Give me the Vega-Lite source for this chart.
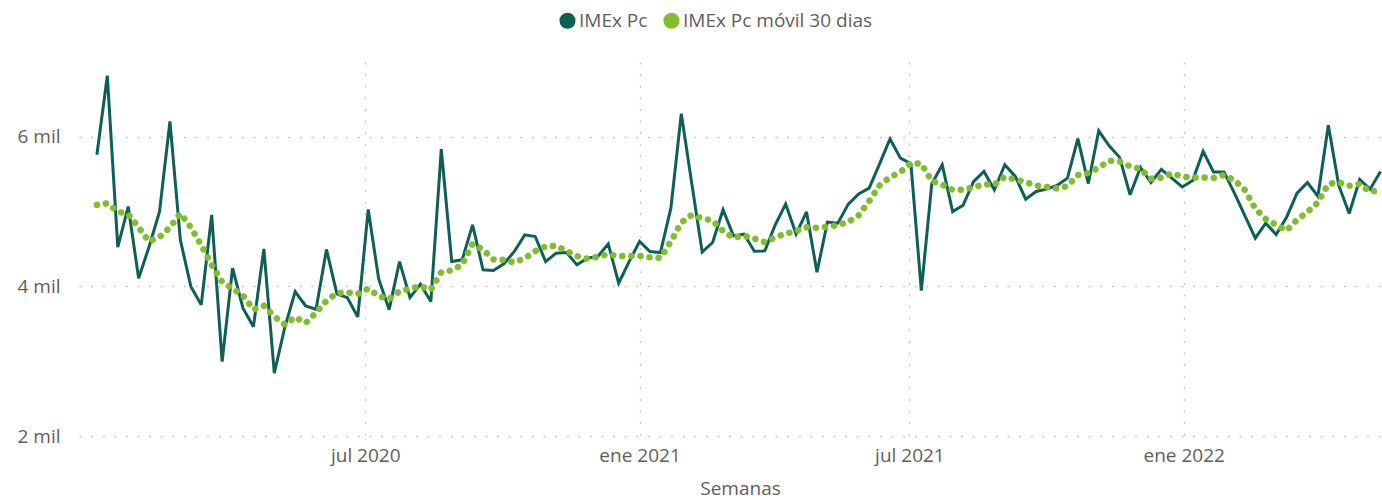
{
  "$schema": "https://vega.github.io/schema/vega-lite/v6.json",
  "width": 1303,
  "height": 374,
  "autosize": {"type": "none"},
  "padding": {"left": 79, "top": 62, "right": 0, "bottom": 64},
  "background": "white",
  "config": {
    "view": {"stroke": null},
    "font": "Open Sans",
    "axis": {
      "labelFont": "Open Sans",
      "labelFontSize": 19,
      "labelColor": "#605E5C",
      "titleFont": "Open Sans",
      "titleFontSize": 19,
      "titleFontWeight": "normal",
      "titleColor": "#605E5C",
      "domain": false,
      "ticks": false,
      "grid": true,
      "gridColor": "#C8C6C4",
      "gridDash": [2, 9.6],
      "gridWidth": 1.3
    }
  },
  "resolve": {"scale": {"color": "independent"}, "legend": {"color": "independent"}},
  "data": {
    "values": [
      {"semana": "2020-01-03", "imex": 5760, "movil": 5090},
      {"semana": "2020-01-10", "imex": 6817, "movil": 5110},
      {"semana": "2020-01-17", "imex": 4525, "movil": 5000},
      {"semana": "2020-01-24", "imex": 5068, "movil": 4965},
      {"semana": "2020-01-31", "imex": 4110, "movil": 4790},
      {"semana": "2020-02-07", "imex": 4530, "movil": 4600},
      {"semana": "2020-02-14", "imex": 5000, "movil": 4660},
      {"semana": "2020-02-21", "imex": 6205, "movil": 4790},
      {"semana": "2020-02-28", "imex": 4620, "movil": 4975},
      {"semana": "2020-03-06", "imex": 4000, "movil": 4790},
      {"semana": "2020-03-13", "imex": 3753, "movil": 4550},
      {"semana": "2020-03-20", "imex": 4957, "movil": 4290},
      {"semana": "2020-03-27", "imex": 2995, "movil": 4060},
      {"semana": "2020-04-03", "imex": 4244, "movil": 3970},
      {"semana": "2020-04-10", "imex": 3708, "movil": 3880},
      {"semana": "2020-04-17", "imex": 3462, "movil": 3690},
      {"semana": "2020-04-24", "imex": 4502, "movil": 3740},
      {"semana": "2020-05-01", "imex": 2839, "movil": 3600},
      {"semana": "2020-05-08", "imex": 3450, "movil": 3490},
      {"semana": "2020-05-15", "imex": 3930, "movil": 3590},
      {"semana": "2020-05-22", "imex": 3740, "movil": 3510},
      {"semana": "2020-05-29", "imex": 3695, "movil": 3650},
      {"semana": "2020-06-05", "imex": 4494, "movil": 3810},
      {"semana": "2020-06-12", "imex": 3900, "movil": 3910},
      {"semana": "2020-06-19", "imex": 3850, "movil": 3920},
      {"semana": "2020-06-26", "imex": 3592, "movil": 3900},
      {"semana": "2020-07-03", "imex": 5028, "movil": 3970},
      {"semana": "2020-07-10", "imex": 4100, "movil": 3870},
      {"semana": "2020-07-17", "imex": 3690, "movil": 3830},
      {"semana": "2020-07-24", "imex": 4332, "movil": 3935},
      {"semana": "2020-07-31", "imex": 3850, "movil": 3970},
      {"semana": "2020-08-07", "imex": 4030, "movil": 4005},
      {"semana": "2020-08-14", "imex": 3797, "movil": 3955},
      {"semana": "2020-08-21", "imex": 5836, "movil": 4190},
      {"semana": "2020-08-28", "imex": 4332, "movil": 4215},
      {"semana": "2020-09-04", "imex": 4355, "movil": 4290},
      {"semana": "2020-09-11", "imex": 4823, "movil": 4570},
      {"semana": "2020-09-18", "imex": 4221, "movil": 4490},
      {"semana": "2020-09-25", "imex": 4212, "movil": 4360},
      {"semana": "2020-10-02", "imex": 4301, "movil": 4355},
      {"semana": "2020-10-09", "imex": 4467, "movil": 4320},
      {"semana": "2020-10-16", "imex": 4689, "movil": 4375},
      {"semana": "2020-10-23", "imex": 4667, "movil": 4470},
      {"semana": "2020-10-30", "imex": 4332, "movil": 4535},
      {"semana": "2020-11-06", "imex": 4444, "movil": 4542},
      {"semana": "2020-11-13", "imex": 4453, "movil": 4475},
      {"semana": "2020-11-20", "imex": 4288, "movil": 4405},
      {"semana": "2020-11-27", "imex": 4378, "movil": 4370},
      {"semana": "2020-12-04", "imex": 4400, "movil": 4395},
      {"semana": "2020-12-11", "imex": 4569, "movil": 4430},
      {"semana": "2020-12-18", "imex": 4043, "movil": 4405},
      {"semana": "2020-12-25", "imex": 4332, "movil": 4405},
      {"semana": "2021-01-01", "imex": 4600, "movil": 4408},
      {"semana": "2021-01-08", "imex": 4467, "movil": 4390},
      {"semana": "2021-01-15", "imex": 4453, "movil": 4380},
      {"semana": "2021-01-22", "imex": 5046, "movil": 4600},
      {"semana": "2021-01-29", "imex": 6310, "movil": 4855},
      {"semana": "2021-02-05", "imex": 5380, "movil": 4955},
      {"semana": "2021-02-12", "imex": 4460, "movil": 4910},
      {"semana": "2021-02-19", "imex": 4587, "movil": 4880},
      {"semana": "2021-02-26", "imex": 5024, "movil": 4740},
      {"semana": "2021-03-05", "imex": 4675, "movil": 4650},
      {"semana": "2021-03-12", "imex": 4700, "movil": 4680},
      {"semana": "2021-03-19", "imex": 4470, "movil": 4640},
      {"semana": "2021-03-26", "imex": 4475, "movil": 4590},
      {"semana": "2021-04-02", "imex": 4823, "movil": 4655},
      {"semana": "2021-04-09", "imex": 5100, "movil": 4705},
      {"semana": "2021-04-16", "imex": 4700, "movil": 4740},
      {"semana": "2021-04-23", "imex": 4995, "movil": 4790},
      {"semana": "2021-04-30", "imex": 4190, "movil": 4785},
      {"semana": "2021-05-07", "imex": 4860, "movil": 4795},
      {"semana": "2021-05-14", "imex": 4846, "movil": 4820},
      {"semana": "2021-05-21", "imex": 5100, "movil": 4860},
      {"semana": "2021-05-28", "imex": 5236, "movil": 4950},
      {"semana": "2021-06-04", "imex": 5314, "movil": 5140},
      {"semana": "2021-06-11", "imex": 5637, "movil": 5350},
      {"semana": "2021-06-18", "imex": 5970, "movil": 5460},
      {"semana": "2021-06-25", "imex": 5715, "movil": 5530},
      {"semana": "2021-07-02", "imex": 5640, "movil": 5648},
      {"semana": "2021-07-09", "imex": 3945, "movil": 5640},
      {"semana": "2021-07-16", "imex": 5370, "movil": 5410},
      {"semana": "2021-07-23", "imex": 5626, "movil": 5358},
      {"semana": "2021-07-30", "imex": 5001, "movil": 5291},
      {"semana": "2021-08-06", "imex": 5085, "movil": 5291},
      {"semana": "2021-08-13", "imex": 5400, "movil": 5325},
      {"semana": "2021-08-20", "imex": 5536, "movil": 5365},
      {"semana": "2021-08-27", "imex": 5290, "movil": 5360},
      {"semana": "2021-09-03", "imex": 5626, "movil": 5465},
      {"semana": "2021-09-10", "imex": 5470, "movil": 5430},
      {"semana": "2021-09-17", "imex": 5166, "movil": 5390},
      {"semana": "2021-09-24", "imex": 5269, "movil": 5350},
      {"semana": "2021-10-01", "imex": 5300, "movil": 5330},
      {"semana": "2021-10-08", "imex": 5350, "movil": 5310},
      {"semana": "2021-10-15", "imex": 5447, "movil": 5340},
      {"semana": "2021-10-22", "imex": 5975, "movil": 5490},
      {"semana": "2021-10-29", "imex": 5375, "movil": 5515},
      {"semana": "2021-11-05", "imex": 6080, "movil": 5590},
      {"semana": "2021-11-12", "imex": 5880, "movil": 5680},
      {"semana": "2021-11-19", "imex": 5725, "movil": 5670},
      {"semana": "2021-11-26", "imex": 5225, "movil": 5605},
      {"semana": "2021-12-03", "imex": 5590, "movil": 5570},
      {"semana": "2021-12-10", "imex": 5390, "movil": 5440},
      {"semana": "2021-12-17", "imex": 5565, "movil": 5455},
      {"semana": "2021-12-24", "imex": 5447, "movil": 5510},
      {"semana": "2021-12-31", "imex": 5330, "movil": 5470},
      {"semana": "2022-01-07", "imex": 5415, "movil": 5455},
      {"semana": "2022-01-14", "imex": 5805, "movil": 5455},
      {"semana": "2022-01-21", "imex": 5530, "movil": 5450},
      {"semana": "2022-01-28", "imex": 5530, "movil": 5490},
      {"semana": "2022-02-04", "imex": 5247, "movil": 5420},
      {"semana": "2022-02-11", "imex": 4945, "movil": 5290},
      {"semana": "2022-02-18", "imex": 4645, "movil": 5040},
      {"semana": "2022-02-25", "imex": 4846, "movil": 4900},
      {"semana": "2022-03-04", "imex": 4695, "movil": 4823},
      {"semana": "2022-03-11", "imex": 4925, "movil": 4747},
      {"semana": "2022-03-18", "imex": 5247, "movil": 4890},
      {"semana": "2022-03-25", "imex": 5389, "movil": 4995},
      {"semana": "2022-04-01", "imex": 5205, "movil": 5122},
      {"semana": "2022-04-08", "imex": 6155, "movil": 5370},
      {"semana": "2022-04-15", "imex": 5350, "movil": 5390},
      {"semana": "2022-04-22", "imex": 4975, "movil": 5345},
      {"semana": "2022-04-29", "imex": 5430, "movil": 5372},
      {"semana": "2022-05-06", "imex": 5300, "movil": 5265},
      {"semana": "2022-05-13", "imex": 5536, "movil": 5291}
    ]
  },
  "encoding": {
    "x": {
      "field": "semana",
      "type": "temporal",
      "scale": {
        "type": "utc",
        "domain": [
          {"year": 2019, "month": 12, "date": 22, "utc": true},
          {"year": 2022, "month": 5, "date": 14, "utc": true}
        ]
      },
      "axis": {
        "values": [
          {"year": 2020, "month": 7, "date": 1, "utc": true},
          {"year": 2021, "month": 1, "date": 1, "utc": true},
          {"year": 2021, "month": 7, "date": 1, "utc": true},
          {"year": 2022, "month": 1, "date": 1, "utc": true}
        ],
        "labelExpr": "['ene','feb','mar','abr','may','jun','jul','ago','sep','oct','nov','dic'][utcmonth(datum.value)] + ' ' + utcyear(datum.value)",
        "title": "Semanas",
        "titleX": 661,
        "labelPadding": 10,
        "titlePadding": 14,
        "labelFlush": false
      }
    }
  },
  "layer": [
    {
      "transform": [{"filter": "datum.imex < 0"}],
      "mark": {"type": "circle", "opacity": 1},
      "encoding": {
        "y": {
          "field": "imex",
          "type": "quantitative",
          "scale": {"domain": [2000, 7000], "nice": false, "zero": false},
          "axis": {
            "values": [2000, 4000, 6000],
            "labelExpr": "(datum.value / 1000) + ' mil'",
            "title": null,
            "labelPadding": 19
          }
        },
        "color": {
          "datum": "IMEx Pc",
          "type": "nominal",
          "scale": {"domain": ["IMEx Pc", "IMEx Pc móvil 30 dias"], "range": ["#0E5F55", "#82BD2F"]},
          "legend": {
            "orient": "none",
            "legendX": 479,
            "legendY": -51,
            "direction": "horizontal",
            "title": null,
            "padding": 0,
            "symbolType": "circle",
            "symbolSize": 260,
            "symbolStrokeWidth": 0,
            "symbolOpacity": 1,
            "labelFont": "Open Sans",
            "labelFontSize": 19,
            "labelLimit": 0,
            "labelColor": "#605E5C",
            "labelOffset": 2,
            "columnPadding": 14
          }
        }
      }
    },
    {
      "mark": {"type": "line", "strokeWidth": 3, "strokeJoin": "miter", "strokeMiterLimit": 3, "color": "#0E5F55"},
      "encoding": {
        "y": {
          "field": "imex",
          "type": "quantitative",
          "scale": {"domain": [2000, 7000], "nice": false, "zero": false},
          "axis": {
            "values": [2000, 4000, 6000],
            "labelExpr": "(datum.value / 1000) + ' mil'",
            "title": null,
            "labelPadding": 19
          }
        }
      }
    },
    {
      "mark": {"type": "line", "strokeWidth": 6.5, "strokeDash": [0.1, 9], "strokeCap": "round", "color": "#82BD2F"},
      "encoding": {
        "y": {
          "field": "movil",
          "type": "quantitative",
          "scale": {"domain": [2000, 7000], "nice": false, "zero": false},
          "axis": {
            "values": [2000, 4000, 6000],
            "labelExpr": "(datum.value / 1000) + ' mil'",
            "title": null,
            "labelPadding": 19
          }
        }
      }
    }
  ]
}
